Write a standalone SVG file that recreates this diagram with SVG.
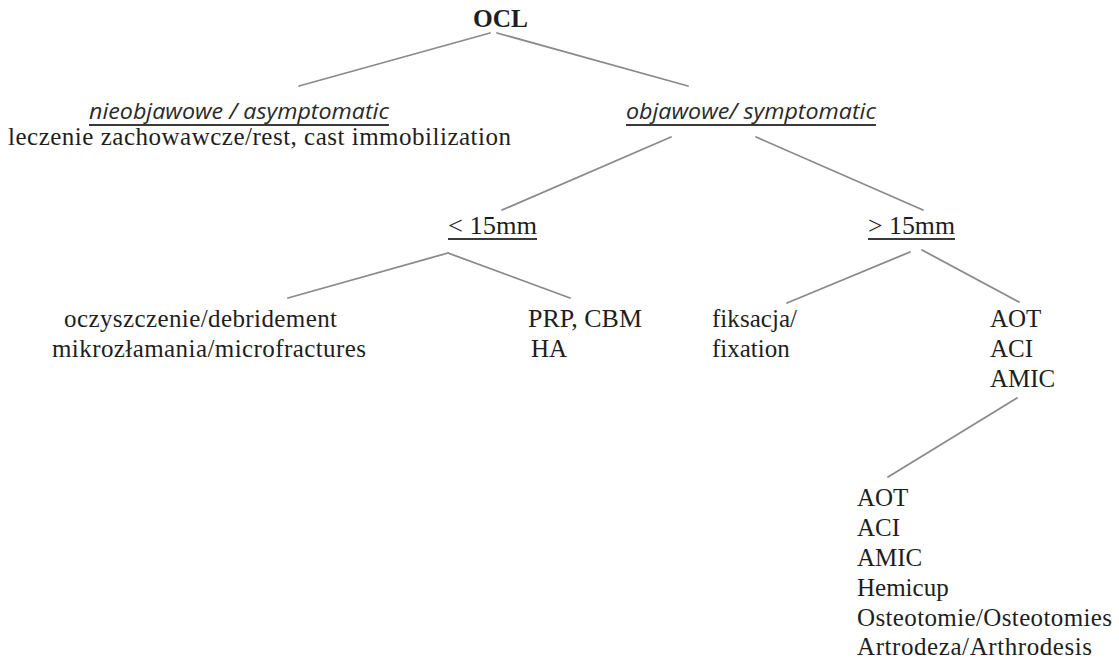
<svg xmlns="http://www.w3.org/2000/svg" width="1119" height="664" viewBox="0 0 1119 664">
<style>
.t{font-family:"Liberation Serif","Times New Roman",serif;font-size:25px;fill:#1e1e1e}
.b{font-weight:bold}
.i{font-family:"Open Sans","DejaVu Sans",sans-serif;font-style:italic;font-size:22px;fill:#2a2a2a}
.u{stroke:#3a3a3a;stroke-width:2}
#connectors line{stroke:#8a8a8a;stroke-width:1.8;stroke-linecap:round}
</style>
<rect width="1119" height="664" fill="#fff"/>
<g id="connectors">
<line x1="490" y1="33" x2="299" y2="86"/>
<line x1="497" y1="33" x2="688" y2="86"/>
<line x1="671" y1="137" x2="502" y2="210"/>
<line x1="756" y1="137" x2="923" y2="210"/>
<line x1="448" y1="253" x2="288" y2="298"/>
<line x1="448" y1="253" x2="570" y2="298"/>
<line x1="910" y1="252" x2="787" y2="303"/>
<line x1="922" y1="250" x2="1019" y2="302"/>
<line x1="1017" y1="398" x2="888" y2="477"/>
</g>
<g id="ocl"><text class="t b" x="473" y="27" textLength="55" lengthAdjust="spacingAndGlyphs">OCL</text></g>
<g id="asymptomatic">
<text class="i" x="89" y="119" textLength="300" lengthAdjust="spacingAndGlyphs">nieobjawowe / asymptomatic</text>
<line class="u" x1="89" y1="125" x2="389" y2="125"/>
<text class="t" font-family="Liberation Serif, serif" x="8" y="145" textLength="503" lengthAdjust="spacing">leczenie zachowawcze/rest, cast immobilization</text>
</g>
<g id="symptomatic">
<text class="i" x="626" y="119" textLength="250" lengthAdjust="spacingAndGlyphs">objawowe/ symptomatic</text>
<line class="u" x1="626" y1="125" x2="876" y2="125"/>
</g>
<g id="lt15">
<text class="t" x="448" y="234" textLength="89" lengthAdjust="spacingAndGlyphs">&lt; 15mm</text>
<line class="u" x1="448" y1="239" x2="537" y2="239"/>
</g>
<g id="gt15">
<text class="t" x="868" y="234" textLength="87" lengthAdjust="spacingAndGlyphs">&gt; 15mm</text>
<line class="u" x1="868" y1="239" x2="955" y2="239"/>
</g>
<g id="debridement">
<text class="t" x="64" y="327" textLength="273" lengthAdjust="spacing">oczyszczenie/debridement</text>
<text class="t" x="52" y="357" textLength="314" lengthAdjust="spacing">mikrozłamania/microfractures</text>
</g>
<g id="prp">
<text class="t" x="528" y="327" textLength="114" lengthAdjust="spacingAndGlyphs">PRP, CBM</text>
<text class="t" x="531" y="357">HA</text>
</g>
<g id="fixation">
<text class="t" x="712" y="327" textLength="85" lengthAdjust="spacing">fiksacja/</text>
<text class="t" x="712" y="357">fixation</text>
</g>
<g id="aot1">
<text class="t" x="990" y="327">AOT</text>
<text class="t" x="990" y="357">ACI</text>
<text class="t" x="990" y="387">AMIC</text>
</g>
<g id="aot2">
<text class="t" x="857" y="506">AOT</text>
<text class="t" x="857" y="536">ACI</text>
<text class="t" x="857" y="566">AMIC</text>
<text class="t" x="857" y="596">Hemicup</text>
<text class="t" x="857" y="626" textLength="255" lengthAdjust="spacing">Osteotomie/Osteotomies</text>
<text class="t" x="857" y="655" textLength="235" lengthAdjust="spacing">Artrodeza/Arthrodesis</text>
</g>
</svg>
